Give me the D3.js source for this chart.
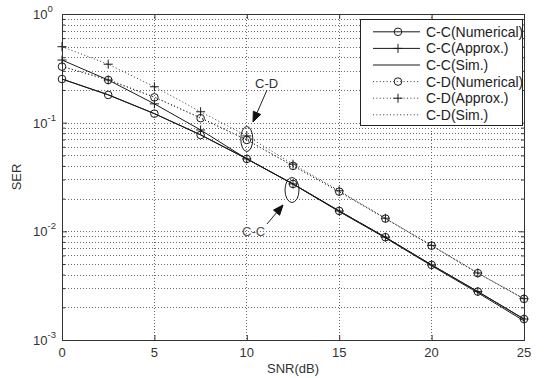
<!DOCTYPE html>
<html>
<head>
<meta charset="utf-8">
<script src="https://cdn.jsdelivr.net/npm/d3@7"></script>
<style>
  html, body { margin: 0; padding: 0; background: #fff; }
  svg { display: block; font-family: "Liberation Sans", Arial, sans-serif; }
</style>
</head>
<body>
<svg id="chart" width="547" height="378"></svg>
<script>
// ---- data ----
const snr = [0, 2.5, 5, 7.5, 10, 12.5, 15, 17.5, 20, 22.5, 25];
const ccNumerical = [0.252, 0.180, 0.121, 0.077, 0.0464, 0.0273, 0.0154, 0.00883, 0.00491, 0.00279, 0.00156];
const ccApprox    = [0.377, 0.247, 0.149, 0.0857, 0.0464, 0.0273, 0.0154, 0.00883, 0.00491, 0.00279, 0.00156];
const ccSim       = [0.252, 0.181, 0.121, 0.0775, 0.0466, 0.0272, 0.0152, 0.00870, 0.00482, 0.00272, 0.00150];
const cdNumerical = [0.328, 0.247, 0.171, 0.110, 0.0693, 0.0400, 0.0232, 0.0131, 0.00738, 0.00412, 0.00239];
const cdApprox    = [0.500, 0.345, 0.214, 0.126, 0.0755, 0.0415, 0.0236, 0.0132, 0.00742, 0.00414, 0.00240];
const cdSim       = [0.330, 0.249, 0.172, 0.111, 0.0695, 0.0401, 0.0232, 0.0131, 0.00738, 0.00412, 0.00239];
const xTicks = [0, 5, 10, 15, 20, 25];
const yTickExps = [0, -1, -2, -3];
const legendLabels = ["C-C(Numerical)", "C-C(Approx.)", "C-C(Sim.)", "C-D(Numerical)", "C-D(Approx.)", "C-D(Sim.)"];

const series = [
  { name: legendLabels[0], values: ccNumerical, dash: null, marker: "circle" },
  { name: legendLabels[1], values: ccApprox,    dash: null, marker: "plus" },
  { name: legendLabels[2], values: ccSim,       dash: null, marker: null },
  { name: legendLabels[3], values: cdNumerical, dash: "1,2.4", marker: "circle" },
  { name: legendLabels[4], values: cdApprox,    dash: "1,2.4", marker: "plus" },
  { name: legendLabels[5], values: cdSim,       dash: "1,2.4", marker: null }
];

// ---- layout ----
const L = 62, R = 524, T = 14, B = 340;
const svg = d3.select("#chart");
const x = d3.scaleLinear().domain([0, 25]).range([L, R]);
const y = d3.scaleLog().domain([1e-3, 1]).range([B, T]);

const lineCol = "#1a1a1a";
const axisCol = "#333";
const gridCol = "#6a6a6a";

// grid
const g = svg.append("g");
g.selectAll("line.gx").data(xTicks.filter(d => d > 0 && d < 25)).enter().append("line")
  .attr("x1", d => x(d)).attr("x2", d => x(d)).attr("y1", T).attr("y2", B)
  .attr("stroke", gridCol).attr("stroke-dasharray", "1,2").attr("stroke-width", 1).attr("shape-rendering", "crispEdges");
const yMinor = y.ticks().filter(d => d > 1.0001e-3 && d < 0.9999);
g.selectAll("line.gy").data(yMinor).enter().append("line")
  .attr("x1", L).attr("x2", R).attr("y1", d => Math.round(y(d)) + 0.5).attr("y2", d => Math.round(y(d)) + 0.5)
  .attr("stroke", gridCol).attr("stroke-dasharray", "1,2").attr("stroke-width", 1);

// axes with inward ticks
const axB = d3.axisBottom(x).tickValues(xTicks).tickSize(-5).tickFormat("");
const axT = d3.axisTop(x).tickValues(xTicks).tickSize(-5).tickFormat("");
svg.append("g").attr("transform", `translate(0,${B})`).call(axB);
svg.append("g").attr("transform", `translate(0,${T})`).call(axT);
const majorY = yTickExps.map(e => Math.pow(10, e));
const axL = d3.axisLeft(y).tickValues(majorY).tickSize(-5).tickFormat("");
const axR = d3.axisRight(y).tickValues(majorY).tickSize(-5).tickFormat("");
const axLm = d3.axisLeft(y).tickValues(yMinor.filter(d => !majorY.some(m => Math.abs(m - d) / m < 1e-6))).tickSize(-3).tickFormat("");
const axRm = d3.axisRight(y).tickValues(yMinor.filter(d => !majorY.some(m => Math.abs(m - d) / m < 1e-6))).tickSize(-3).tickFormat("");
svg.append("g").attr("transform", `translate(${L},0)`).call(axL);
svg.append("g").attr("transform", `translate(${R},0)`).call(axR);
svg.append("g").attr("transform", `translate(${L},0)`).call(axLm);
svg.append("g").attr("transform", `translate(${R},0)`).call(axRm);
svg.selectAll(".domain").attr("stroke", axisCol);
svg.selectAll(".tick line").attr("stroke", axisCol);

// x tick labels
svg.append("g").selectAll("text").data(xTicks).enter().append("text")
  .attr("x", d => x(d)).attr("y", 357).attr("text-anchor", "middle")
  .attr("font-size", 13).attr("fill", "#333").text(d => d);

// y tick labels with superscripts
const yl = svg.append("g");
yTickExps.forEach(e => {
  const yy = y(Math.pow(10, e));
  const t = yl.append("text").attr("x", 33).attr("y", yy + 5).attr("font-size", 13).attr("fill", "#333");
  t.append("tspan").text("10");
  t.append("tspan").attr("dy", -7).attr("font-size", 9.5).text(e === 0 ? "0" : "-" + Math.abs(e));
});

// axis labels
svg.append("text").attr("x", (L + R) / 2).attr("y", 373).attr("text-anchor", "middle")
  .attr("font-size", 13).attr("fill", "#333").text("SNR(dB)");
svg.append("text").attr("transform", "translate(21,177) rotate(-90)").attr("text-anchor", "middle")
  .attr("font-size", 13).attr("fill", "#333").text("SER");

// data lines
const line = d3.line().x((d, i) => x(snr[i])).y(d => y(d));
const plot = svg.append("g");
series.forEach(s => {
  plot.append("path").datum(s.values).attr("d", line).attr("fill", "none")
    .attr("stroke", s.dash ? "#333" : lineCol).attr("stroke-width", 1)
    .attr("stroke-dasharray", s.dash);
});

function drawMarker(sel, type, cx, cy) {
  if (type === "circle") {
    sel.append("circle").attr("cx", cx).attr("cy", cy).attr("r", 3.8)
      .attr("fill", "none").attr("stroke", lineCol).attr("stroke-width", 1);
  } else if (type === "plus") {
    sel.append("path").attr("d", `M${cx - 4.5},${cy}H${cx + 4.5}M${cx},${cy - 4.5}V${cy + 4.5}`)
      .attr("stroke", lineCol).attr("stroke-width", 1).attr("fill", "none");
  }
}
series.forEach(s => {
  if (!s.marker) return;
  s.values.forEach((v, i) => drawMarker(plot, s.marker, x(snr[i]), y(v)));
});

// annotations
const ann = svg.append("g").attr("stroke", "#222").attr("fill", "none");
ann.append("ellipse").attr("cx", x(10)).attr("cy", 139).attr("rx", 6).attr("ry", 12.5);
ann.append("ellipse").attr("cx", x(12.5) - 1).attr("cy", 190).attr("rx", 7).attr("ry", 12.5);
function arrow(x1, y1, x2, y2) {
  const a = Math.atan2(y2 - y1, x2 - x1), len = 10, w = 4;
  const bx = x2 - len * Math.cos(a), by = y2 - len * Math.sin(a);
  ann.append("line").attr("x1", x1).attr("y1", y1).attr("x2", bx).attr("y2", by);
  ann.append("path").attr("fill", "#111").attr("stroke", "#111")
    .attr("d", `M${x2},${y2}L${bx + w * Math.sin(a)},${by - w * Math.cos(a)}L${bx - w * Math.sin(a)},${by + w * Math.cos(a)}Z`);
}
arrow(267, 90, 253, 122);
arrow(267, 224, 283, 205);
svg.append("text").attr("x", 255).attr("y", 88).attr("font-size", 13).attr("fill", "#333").text("C-D");
svg.append("text").attr("x", 242).attr("y", 236).attr("font-size", 13).attr("fill", "#555").text("C-C");

// legend
const lg = svg.append("g");
lg.append("rect").attr("x", 360.5).attr("y", 19.5).attr("width", 162).attr("height", 106)
  .attr("fill", "#fff").attr("stroke", "#222");
series.forEach((s, i) => {
  const ly = 31.8 + i * 16.6;
  lg.append("line").attr("x1", 373).attr("x2", 420).attr("y1", ly).attr("y2", ly)
    .attr("stroke", s.dash ? "#333" : lineCol).attr("stroke-dasharray", s.dash);
  if (s.marker) drawMarker(lg, s.marker, 398, ly);
  lg.append("text").attr("x", 426).attr("y", ly + 5).attr("font-size", 14).attr("fill", "#222").text(s.name);
});
</script>
</body>
</html>
